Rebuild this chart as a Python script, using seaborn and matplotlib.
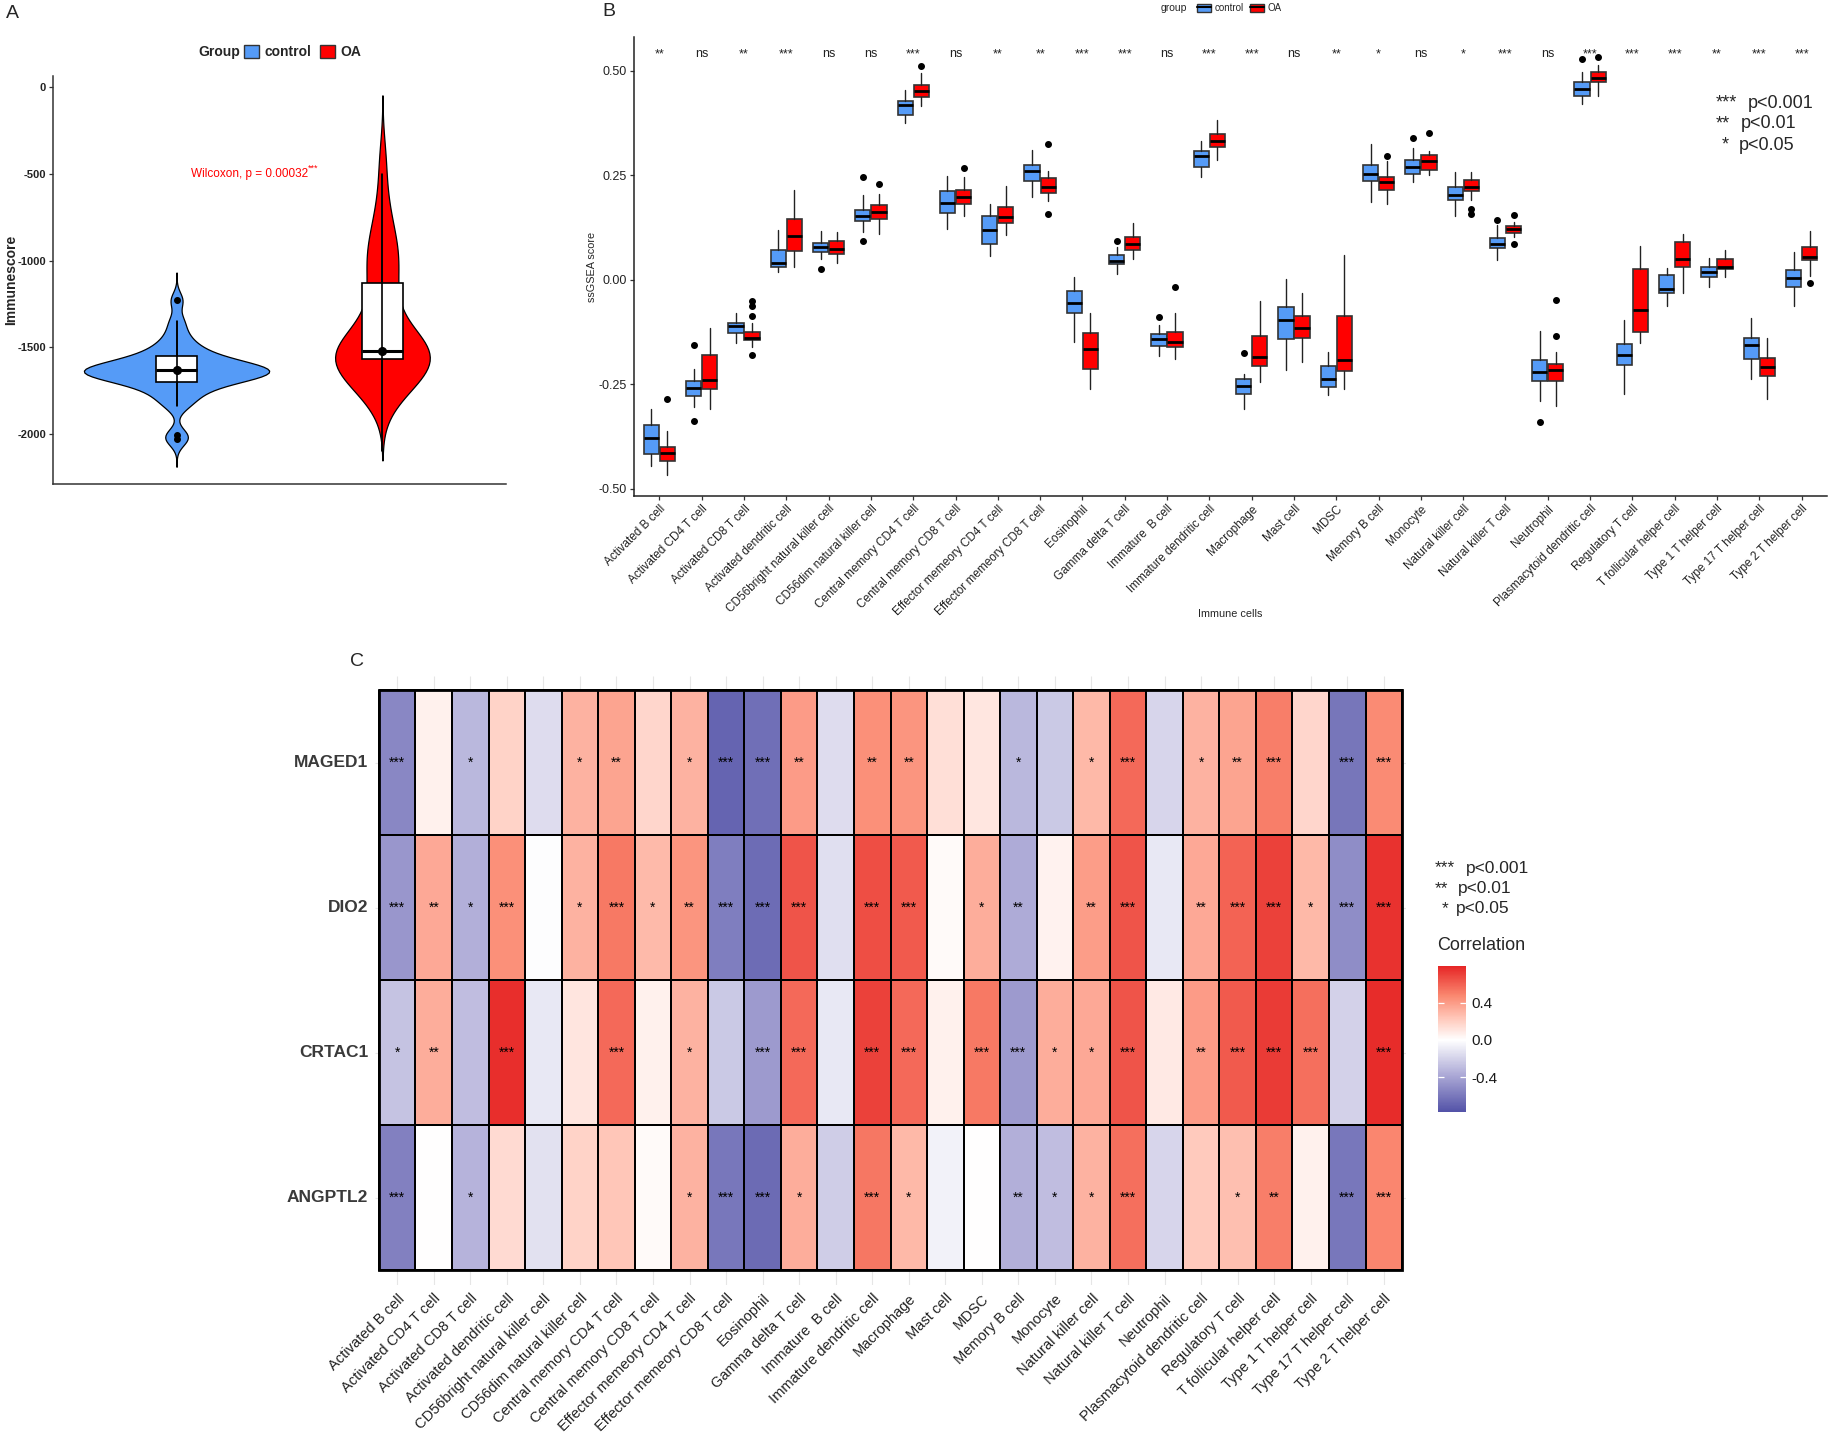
import numpy as np
import pandas as pd
import matplotlib
matplotlib.use("Agg")
import matplotlib.pyplot as plt
import seaborn as sns
from matplotlib.colors import LinearSegmentedColormap
from matplotlib.patches import Patch, Rectangle
from matplotlib.lines import Line2D
from matplotlib.legend_handler import HandlerTuple

sns.set_theme(style="white")
plt.rcParams["font.family"] = ["Liberation Sans", "DejaVu Sans"]

# ---------------- data ----------------
groups = ["control", "OA"]
BLUE, RED = "#559BF7", "#FF0000"

# Panel A: immunescore samples per group
control_score = [-1230, -1350, -1420, -1470, -1500, -1525, -1545, -1560, -1575, -1585,
                 -1595, -1605, -1612, -1618, -1624, -1630, -1634, -1638, -1642, -1647,
                 -1652, -1658, -1665, -1672, -1680, -1690, -1700, -1712, -1728, -1748,
                 -1775, -1805, -1840, -2010, -2030]
oa_score = [-420, -640, -770, -850, -910, -960, -1000, -1050, -1110, -1170,
            -1240, -1310, -1370, -1410, -1445, -1470, -1490, -1505, -1518, -1530,
            -1540, -1548, -1555, -1562, -1570, -1580, -1595, -1612, -1635, -1660,
            -1690, -1715, -1740, -1760, -1780]
# box summaries
a_q1 = [-1700, -1570]
a_med = [-1630, -1520]
a_q3 = [-1550, -1130]
a_lo = [-1840, -2100]
a_hi = [-1350, -500]
a_out = [[-1230, -2010, -2030], []]
wilcox_label = "Wilcoxon, p = 0.00032"

# Panel B
cells = ["Activated B cell", "Activated CD4 T cell", "Activated CD8 T cell",
         "Activated dendritic cell", "CD56bright natural killer cell",
         "CD56dim natural killer cell", "Central memory CD4 T cell",
         "Central memory CD8 T cell", "Effector memeory CD4 T cell",
         "Effector memeory CD8 T cell", "Eosinophil", "Gamma delta T cell",
         "Immature  B cell", "Immature dendritic cell", "Macrophage", "Mast cell",
         "MDSC", "Memory B cell", "Monocyte", "Natural killer cell",
         "Natural killer T cell", "Neutrophil", "Plasmacytoid dendritic cell",
         "Regulatory T cell", "T follicular helper cell", "Type 1 T helper cell",
         "Type 17 T helper cell", "Type 2 T helper cell"]
sig_b = ["**", "ns", "**", "***", "ns", "ns", "***", "ns", "**", "**", "***", "***", "ns", "***",
         "***", "ns", "**", "*", "ns", "*", "***", "ns", "***", "***", "***", "**", "***", "***"]

ctrl_lo = [-0.446, -0.305, -0.152, 0.020, 0.051, 0.115, 0.375, 0.121, 0.057, 0.198, -0.148, 0.014, -0.182, 0.245,
           -0.308, -0.216, -0.276, 0.186, 0.235, 0.153, 0.047, -0.289, 0.420, -0.272, -0.063, -0.016, -0.238, -0.063]
ctrl_q1 = [-0.417, -0.278, -0.126, 0.030, 0.067, 0.141, 0.394, 0.159, 0.085, 0.237, -0.080, 0.038, -0.157, 0.271,
           -0.273, -0.142, -0.256, 0.237, 0.253, 0.190, 0.077, -0.241, 0.441, -0.204, -0.032, 0.008, -0.190, -0.018]
ctrl_med = [-0.378, -0.258, -0.111, 0.040, 0.079, 0.154, 0.419, 0.185, 0.119, 0.261, -0.055, 0.046, -0.142, 0.296,
            -0.254, -0.096, -0.238, 0.253, 0.269, 0.203, 0.086, -0.220, 0.456, -0.180, -0.021, 0.019, -0.156, 0.005]
ctrl_q3 = [-0.348, -0.241, -0.103, 0.071, 0.089, 0.166, 0.427, 0.213, 0.153, 0.275, -0.026, 0.059, -0.130, 0.309,
           -0.236, -0.064, -0.206, 0.275, 0.287, 0.221, 0.101, -0.192, 0.474, -0.154, 0.012, 0.032, -0.138, 0.024]
ctrl_hi = [-0.308, -0.212, -0.079, 0.119, 0.117, 0.202, 0.455, 0.249, 0.182, 0.311, 0.008, 0.078, -0.108, 0.333,
           -0.224, 0.001, -0.172, 0.325, 0.315, 0.257, 0.131, -0.123, 0.498, -0.095, 0.029, 0.053, -0.090, 0.067]
ctrl_out = [[], [-0.156, -0.337], [], [], [0.025], [0.245, 0.094], [], [], [], [], [], [0.094], [-0.088], [],
            [-0.174], [], [], [], [0.340], [], [0.143], [-0.341], [0.528], [], [], [], [], []]

oa_lo = [-0.466, -0.310, -0.160, 0.032, 0.041, 0.109, 0.417, 0.153, 0.107, 0.189, -0.260, 0.051, -0.190, 0.287,
         -0.244, -0.196, -0.260, 0.182, 0.251, 0.191, 0.102, -0.302, 0.441, -0.152, -0.032, 0.006, -0.286, 0.009]
oa_q1 = [-0.434, -0.262, -0.144, 0.070, 0.062, 0.146, 0.437, 0.181, 0.135, 0.209, -0.214, 0.071, -0.160, 0.319,
         -0.206, -0.138, -0.217, 0.215, 0.263, 0.213, 0.113, -0.242, 0.473, -0.124, 0.032, 0.026, -0.229, 0.047]
oa_med = [-0.415, -0.240, -0.138, 0.105, 0.074, 0.162, 0.453, 0.199, 0.150, 0.223, -0.166, 0.086, -0.148, 0.333,
          -0.184, -0.116, -0.192, 0.233, 0.285, 0.223, 0.121, -0.216, 0.484, -0.072, 0.051, 0.032, -0.208, 0.055]
oa_q3 = [-0.399, -0.179, -0.124, 0.146, 0.094, 0.178, 0.465, 0.214, 0.174, 0.243, -0.126, 0.102, -0.124, 0.348,
         -0.134, -0.087, -0.086, 0.247, 0.299, 0.238, 0.129, -0.202, 0.497, 0.027, 0.090, 0.049, -0.186, 0.078]
oa_hi = [-0.362, -0.116, -0.104, 0.215, 0.114, 0.205, 0.496, 0.245, 0.225, 0.261, -0.080, 0.135, -0.080, 0.382,
         -0.050, -0.031, 0.059, 0.285, 0.308, 0.257, 0.139, -0.172, 0.514, 0.082, 0.109, 0.071, -0.138, 0.118]
oa_out = [[-0.284], [], [-0.051, -0.063, -0.086, -0.179], [], [], [0.229], [0.512], [0.267], [], [0.325, 0.158],
          [], [], [-0.018], [], [], [], [], [0.297], [0.351], [0.169, 0.158], [0.156, 0.087], [-0.048, -0.134],
          [0.532], [], [], [], [], [-0.007]]

# Panel C
genes = ["MAGED1", "DIO2", "CRTAC1", "ANGPTL2"]
cor_maged1 = [-0.53, 0.06, -0.31, 0.18, -0.15, 0.31, 0.37, 0.17, 0.31, -0.69, -0.64, 0.40, -0.15, 0.44,
              0.42, 0.13, 0.10, -0.31, -0.24, 0.29, 0.57, -0.18, 0.31, 0.37, 0.50, 0.17, -0.61, 0.46]
cor_dio2 = [-0.46, 0.35, -0.35, 0.44, -0.01, 0.31, 0.52, 0.28, 0.42, -0.57, -0.65, 0.64, -0.14, 0.66,
            0.62, 0.02, 0.33, -0.37, 0.05, 0.39, 0.64, -0.10, 0.35, 0.59, 0.70, 0.29, -0.50, 0.75]
cor_crtac1 = [-0.26, 0.33, -0.29, 0.76, -0.10, 0.11, 0.57, 0.06, 0.31, -0.24, -0.44, 0.57, -0.10, 0.70,
              0.57, 0.06, 0.52, -0.44, 0.33, 0.35, 0.64, 0.09, 0.40, 0.62, 0.72, 0.55, -0.20, 0.77]
cor_angptl2 = [-0.56, 0.00, -0.33, 0.15, -0.13, 0.18, 0.24, 0.02, 0.31, -0.60, -0.66, 0.33, -0.22, 0.53,
               0.29, -0.06, 0.00, -0.35, -0.29, 0.31, 0.55, -0.18, 0.22, 0.26, 0.50, 0.06, -0.60, 0.48]
sig_maged1 = ["***", "", "*", "", "", "*", "**", "", "*", "***", "***", "**", "", "**",
              "**", "", "", "*", "", "*", "***", "", "*", "**", "***", "", "***", "***"]
sig_dio2 = ["***", "**", "*", "***", "", "*", "***", "*", "**", "***", "***", "***", "", "***",
            "***", "", "*", "**", "", "**", "***", "", "**", "***", "***", "*", "***", "***"]
sig_crtac1 = ["*", "**", "", "***", "", "", "***", "", "*", "", "***", "***", "", "***",
              "***", "", "***", "***", "*", "*", "***", "", "**", "***", "***", "***", "", "***"]
sig_angptl2 = ["***", "", "*", "", "", "", "", "", "*", "***", "***", "*", "", "***",
               "*", "", "", "**", "*", "*", "***", "", "", "*", "**", "", "***", "***"]

# ---------------- figure ----------------
W, H = 1829, 1434
fig = plt.figure(figsize=(W / 100, H / 100), dpi=100)


def ax_px(l, t, r, b):
    return fig.add_axes([l / W, 1 - b / H, (r - l) / W, (b - t) / H])


# ================= Panel A =================
axA = ax_px(53, 76, 506, 484)
dfA = pd.DataFrame({"Group": ["control"] * len(control_score) + ["OA"] * len(oa_score),
                    "Immunescore": control_score + oa_score})
sns.violinplot(data=dfA[dfA.Group == "control"], x="Group", y="Immunescore", order=groups,
               color=BLUE, saturation=1, inner=None, bw_method=0.3, cut=3.5, width=0.9,
               linewidth=0.9, linecolor="black", ax=axA)
sns.violinplot(data=dfA[dfA.Group == "OA"], x="Group", y="Immunescore", order=groups,
               color=RED, saturation=1, inner=None, bw_method=0.4, cut=2.7, width=0.46,
               linewidth=0.9, linecolor="black", ax=axA)
statsA = [dict(q1=a_q1[i], med=a_med[i], q3=a_q3[i], whislo=a_lo[i], whishi=a_hi[i],
               fliers=a_out[i]) for i in range(2)]
axA.bxp(statsA, positions=[0, 1], widths=0.2, patch_artist=True, showcaps=False,
        boxprops=dict(facecolor="white", edgecolor="black", linewidth=1.2),
        medianprops=dict(color="black", linewidth=2.2),
        whiskerprops=dict(color="black", linewidth=1.2),
        flierprops=dict(marker="o", markerfacecolor="black", markeredgecolor="black", markersize=4),
        manage_ticks=False, zorder=3)
axA.vlines([0, 1], a_lo, a_hi, color="black", linewidth=1.2, zorder=4)
axA.plot([0, 1], a_med, "o", color="black", markersize=5.5, zorder=5)
wtxt = axA.text(0.068, -500, wilcox_label, color="red", fontsize=8.5, va="center", ha="left")
axA.annotate("***", xy=(1.0, 0.95), xycoords=wtxt, ha="left", va="center", fontsize=6.5, color="red")
axA.set_xlim(-0.6, 1.6)
axA.set_ylim(-2290, 65)
axA.set_yticks([0, -500, -1000, -1500, -2000])
axA.set_yticklabels(["0", "-500", "-1000", "-1500", "-2000"], fontweight="bold", fontsize=8, color="#222222")
axA.set_xticks([])
axA.set_xlabel("")
axA.set_ylabel("Immunescore", fontweight="bold", fontsize=10)
axA.yaxis.set_label_coords(-0.093, 0.5)
axA.yaxis.label.set_va("center")
for s in ["top", "right"]:
    axA.spines[s].set_visible(False)
for s in ["left", "bottom"]:
    axA.spines[s].set_color("#333333")
    axA.spines[s].set_linewidth(1.1)
axA.tick_params(axis="y", left=True, length=3, width=0.9, color="#333333", pad=2)

fig.text(198 / W, 1 - 52 / H, "Group", fontweight="bold", fontsize=10, va="center", ha="left")
fig.legend(handles=[Patch(facecolor=BLUE, edgecolor="#333333"), Patch(facecolor=RED, edgecolor="#333333")],
           labels=groups, ncol=2, loc="center left", bbox_to_anchor=(244 / W, 1 - 52 / H),
           frameon=False, prop=dict(weight="bold", size=10), handlelength=1.1, handleheight=1.1,
           columnspacing=0.6, handletextpad=0.4, borderpad=0, borderaxespad=0)
fig.text(6 / W, 1 - 14 / H, "A", fontsize=14, va="center", ha="left")

# ================= Panel B =================
axB = ax_px(634, 37, 1827, 496)
pos = np.arange(len(cells))
stats_c = [dict(q1=ctrl_q1[i], med=ctrl_med[i], q3=ctrl_q3[i], whislo=ctrl_lo[i], whishi=ctrl_hi[i],
                fliers=ctrl_out[i]) for i in range(len(cells))]
stats_o = [dict(q1=oa_q1[i], med=oa_med[i], q3=oa_q3[i], whislo=oa_lo[i], whishi=oa_hi[i],
                fliers=oa_out[i]) for i in range(len(cells))]
for stats, off, col in [(stats_c, -0.19, BLUE), (stats_o, 0.19, RED)]:
    axB.bxp(stats, positions=pos + off, widths=0.36, patch_artist=True, showcaps=False,
            boxprops=dict(facecolor=col, edgecolor="#333333", linewidth=1.2),
            medianprops=dict(color="black", linewidth=2.0),
            whiskerprops=dict(color="#222222", linewidth=1.0),
            flierprops=dict(marker="o", markerfacecolor="black", markeredgecolor="black", markersize=4),
            manage_ticks=False)
for i, s in enumerate(sig_b):
    axB.text(pos[i], 0.533, s, ha="center", va="baseline", fontsize=9, color="#222222")
axB.set_xlim(-0.6, len(cells) - 0.4)
axB.set_ylim(-0.517, 0.581)
axB.set_yticks([-0.5, -0.25, 0, 0.25, 0.5])
axB.set_yticklabels(["-0.50", "-0.25", "0.00", "0.25", "0.50"], fontsize=9, color="#222222")
axB.set_xticks(pos)
axB.set_xticklabels(cells, rotation=45, ha="right", rotation_mode="anchor", fontsize=8.5, color="#222222")
axB.tick_params(axis="both", length=3, width=0.9, color="#333333", pad=2, bottom=True, left=True)
axB.set_ylabel("ssGSEA score", fontsize=7.8)
axB.yaxis.set_label_coords(-0.035, 0.5)
axB.yaxis.label.set_va("center")
axB.set_xlabel("Immune cells", fontsize=7.8)
axB.xaxis.set_label_coords(0.5, -0.257)
axB.xaxis.label.set_va("center")
for s in ["top", "right"]:
    axB.spines[s].set_visible(False)
for s in ["left", "bottom"]:
    axB.spines[s].set_color("#222222")
    axB.spines[s].set_linewidth(1.1)

fig.text(1161 / W, 1 - 8 / H, "group", fontsize=7.5, va="center", ha="left")
hB = [(Patch(facecolor=BLUE, edgecolor="#333333"), Line2D([], [], color="black", lw=1.5)),
      (Patch(facecolor=RED, edgecolor="#333333"), Line2D([], [], color="black", lw=1.5))]
fig.legend(handles=hB, labels=groups, ncol=2, loc="center left", bbox_to_anchor=(1197 / W, 1 - 8 / H),
           frameon=False, prop=dict(size=7), handlelength=1.4, handleheight=0.9,
           columnspacing=0.7, handletextpad=0.4, borderpad=0, borderaxespad=0,
           handler_map={tuple: HandlerTuple(ndivide=1)})
for stars, ptxt, xs, xp, yy in [("***", "p<0.001", 1716, 1748, 103), ("**", "p<0.01", 1716, 1741, 124),
                                ("*", "p<0.05", 1722, 1739, 145)]:
    fig.text(xs / W, 1 - yy / H, stars, fontsize=13, va="center", ha="left")
    fig.text(xp / W, 1 - yy / H, ptxt, fontsize=13, va="center", ha="left")
fig.text(602 / W, 1 - 12 / H, "B", fontsize=14, va="center", ha="left")

# ================= Panel C =================
axC = ax_px(375.3, 676, 1405.7, 1284.5)
cax = ax_px(1438, 966, 1466, 1112)
cor_df = pd.DataFrame([cor_maged1, cor_dio2, cor_crtac1, cor_angptl2], index=genes, columns=cells)
sig_df = pd.DataFrame([sig_maged1, sig_dio2, sig_crtac1, sig_angptl2], index=genes, columns=cells)
cmap = LinearSegmentedColormap.from_list(
    "corr", [(0.0, "#4E4EA5"), (0.25, "#A8A5D4"), (0.5, "#FFFFFF"),
             (0.65, "#FFC6B8"), (0.8, "#FA8870"), (1.0, "#E62626")])
axC.vlines(np.arange(len(cells)) + 0.5, -0.1, len(genes) + 0.1, color="#E6E6E6", linewidth=0.8, zorder=0)
axC.hlines(np.arange(len(genes)) + 0.5, -0.1, len(cells) + 0.1, color="#E6E6E6", linewidth=0.8, zorder=0)
sns.heatmap(cor_df, ax=axC, cmap=cmap, vmin=-0.79, vmax=0.79, linewidths=1.3, linecolor="black",
            annot=sig_df, fmt="", annot_kws=dict(fontsize=10, color="black"), cbar_ax=cax)
axC.add_patch(Rectangle((0, 0), len(cells), len(genes), fill=False, edgecolor="black", linewidth=2.0,
                        zorder=5, clip_on=False))
axC.set_xlim(-0.1, len(cells) + 0.1)
axC.set_ylim(len(genes) + 0.1, -0.1)
axC.set_xticks(np.arange(len(cells)) + 0.5)
axC.set_xticklabels(cells, rotation=45, ha="right", rotation_mode="anchor", fontsize=10.5, color="#222222")
axC.set_yticks(np.arange(len(genes)) + 0.5)
axC.set_yticklabels(genes, rotation=0, fontweight="bold", fontsize=12.5, color="#3a3a3a")
axC.tick_params(axis="both", length=0, pad=5)
axC.set_xlabel("")
axC.set_ylabel("")
for s in axC.spines.values():
    s.set_visible(False)

for s in cax.spines.values():
    s.set_visible(False)
cax.set_ylim(-0.77, 0.79)
cax.set_yticks([-0.4, 0.0, 0.4])
cax.set_yticklabels(["-0.4", "0.0", "0.4"], fontsize=11, color="#1a1a1a")
cax.tick_params(axis="y", length=0, pad=4)
for t in [-0.4, 0.0, 0.4]:
    cax.hlines(t, 0, 0.2, transform=cax.get_yaxis_transform(), color="white", linewidth=0.9)
    cax.hlines(t, 0.8, 1.0, transform=cax.get_yaxis_transform(), color="white", linewidth=0.9)
fig.text(1437 / W, 1 - 946 / H, "Correlation", fontsize=13, va="center", ha="left")
for stars, ptxt, xs, xp, yy in [("***", "p<0.001", 1435, 1466, 868), ("**", "p<0.01", 1435, 1458, 889),
                                ("*", "p<0.05", 1442, 1456, 909)]:
    fig.text(xs / W, 1 - yy / H, stars, fontsize=12.5, va="center", ha="left")
    fig.text(xp / W, 1 - yy / H, ptxt, fontsize=12.5, va="center", ha="left")
fig.text(350 / W, 1 - 661 / H, "C", fontsize=14, va="center", ha="left")

fig.savefig("out.png", dpi=100, facecolor="white")
